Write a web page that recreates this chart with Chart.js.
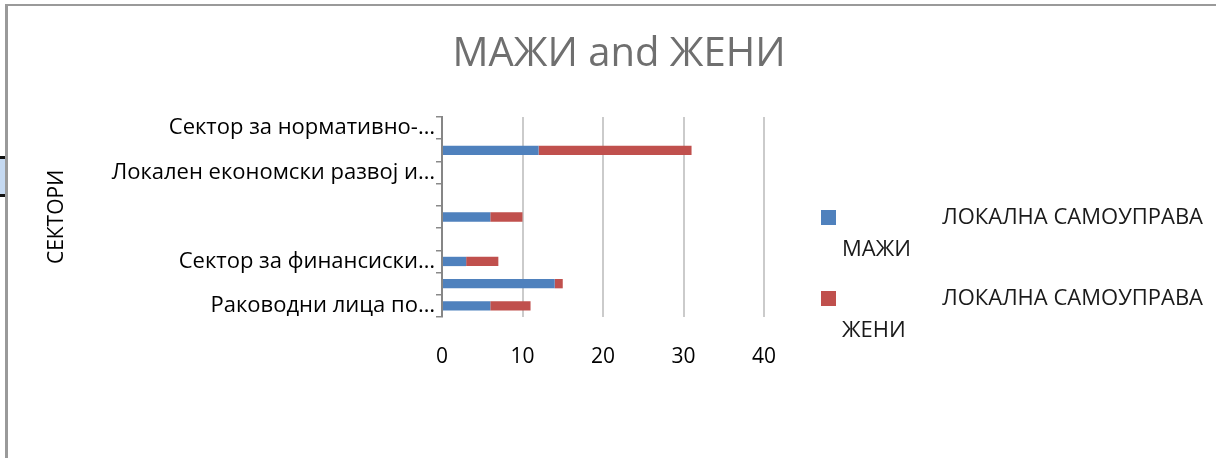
<!DOCTYPE html>
<html>
<head>
<meta charset="utf-8">
<script src="https://cdn.jsdelivr.net/npm/chart.js@4.4.1/dist/chart.umd.min.js"></script>
<style>
  html, body { margin: 0; padding: 0; background: #fff; }
  #wrap { position: relative; width: 1216px; height: 458px; overflow: hidden; }
  #frame-top { position: absolute; left: 5px; top: 4px; width: 1211px; height: 2px; background: #9a9a9a; }
  #frame-left { position: absolute; left: 5px; top: 4px; width: 3px; height: 454px; background: #9a9a9a; }
  #sel { position: absolute; left: 0; top: 156px; width: 5px; height: 35px; background: #c5d9f1;
         border-top: 3px solid #111; border-bottom: 3px solid #111; }
</style>
</head>
<body>
<div id="wrap">
  <canvas id="chart" width="1216" height="458"></canvas>
  <div id="frame-top"></div>
  <div id="frame-left"></div>
  <div id="sel"></div>
</div>
<script>
// categories from bottom to top (as Excel draws them)
const categories = [
    'Раководни лица по…',
    '',
    'Сектор за финансиски…',
    '',
    '',
    '',
    'Локален економски развој и…',
    '',
    'Сектор за нормативно-…'
];
const maziValues = [6, 14, 3, null, 6, null, null, 12, null];
const zeniValues = [5, 1, 4, null, 4, null, null, 19, null];
const xTicks = [0, 10, 20, 30, 40];

const seriesNames = ['ЛОКАЛНА САМОУПРАВА МАЖИ', 'ЛОКАЛНА САМОУПРАВА ЖЕНИ'];
const blue = '#4F81BD';
const red = '#C0504D';
const fontFamily = "'Open Sans', 'Noto Sans', sans-serif";

// Legend on the right, wrapped like the Excel one
const sideLegend = {
    id: 'sideLegend',
    afterDraw(chart) {
        const ctx = chart.ctx;
        const rows = [218, 299];
        ctx.save();
        ctx.font = '22px ' + fontFamily;
        ctx.textBaseline = 'middle';
        chart.data.datasets.forEach((ds, i) => {
            const y = rows[i];
            ctx.fillStyle = ds.backgroundColor;
            ctx.fillRect(821, y - 8, 15, 15);
            ctx.fillStyle = '#1a1a1a';
            const words = ds.label.split(' ');
            const last = words.pop();
            ctx.textAlign = 'right';
            ctx.fillText(words.join(' '), 1203, y);
            ctx.textAlign = 'left';
            ctx.fillText(last, 842, y + 32);
        });
        ctx.restore();
    }
};

// keep the title centred on the whole picture, not only on the plot side
const centreTitle = {
    id: 'centreTitle',
    afterLayout(chart) {
        const t = chart.titleBlock;
        if (t) {
            t.left = 0;
            t.right = 1238;
            t.width = 1238;
        }
    }
};

const ctx = document.getElementById('chart').getContext('2d');
const chart = new Chart(ctx, {
    type: 'bar',
    data: {
        labels: categories,
        datasets: [
            {
                label: seriesNames[0],
                data: maziValues,
                backgroundColor: blue,
                borderWidth: 0,
                categoryPercentage: 1,
                barPercentage: 0.42
            },
            {
                label: seriesNames[1],
                data: zeniValues,
                backgroundColor: red,
                borderWidth: 0,
                categoryPercentage: 1,
                barPercentage: 0.42
            }
        ]
    },
    options: {
        indexAxis: 'y',
        responsive: false,
        animation: false,
        layout: {
            padding: { left: 0, right: 452, top: 0, bottom: 81 }
        },
        plugins: {
            legend: { display: false },
            tooltip: { enabled: false },
            title: {
                display: true,
                text: 'МАЖИ and ЖЕНИ',
                color: '#6f6f6f',
                font: { family: fontFamily, size: 40, weight: 'normal' },
                padding: { top: 31, bottom: 38 }
            }
        },
        scales: {
            x: {
                stacked: true,
                min: 0,
                max: 40,
                afterBuildTicks(scale) {
                    scale.ticks = xTicks.map(v => ({ value: v }));
                },
                afterFit(scale) {
                    scale.height = 60;
                },
                grid: {
                    color: '#cbcbcb',
                    lineWidth: 2,
                    drawTicks: false
                },
                border: { display: false },
                ticks: {
                    color: '#000',
                    padding: 27,
                    font: { family: fontFamily, size: 21 }
                }
            },
            y: {
                stacked: true,
                reverse: true,
                afterFit(scale) {
                    scale.width = 442;
                },
                grid: {
                    offset: true,
                    drawOnChartArea: false,
                    drawTicks: true,
                    tickLength: 6,
                    color: '#8a8a8a',
                    lineWidth: 1.5
                },
                border: { display: true, color: '#868686', width: 2 },
                ticks: {
                    color: '#000',
                    padding: 1,
                    autoSkip: false,
                    font: { family: fontFamily, size: 22 }
                },
                title: {
                    display: true,
                    text: 'СЕКТОРИ',
                    color: '#000',
                    font: { family: fontFamily, size: 21 },
                    padding: { top: 44, bottom: 0 }
                }
            }
        }
    },
    plugins: [sideLegend, centreTitle]
});
</script>
</body>
</html>
